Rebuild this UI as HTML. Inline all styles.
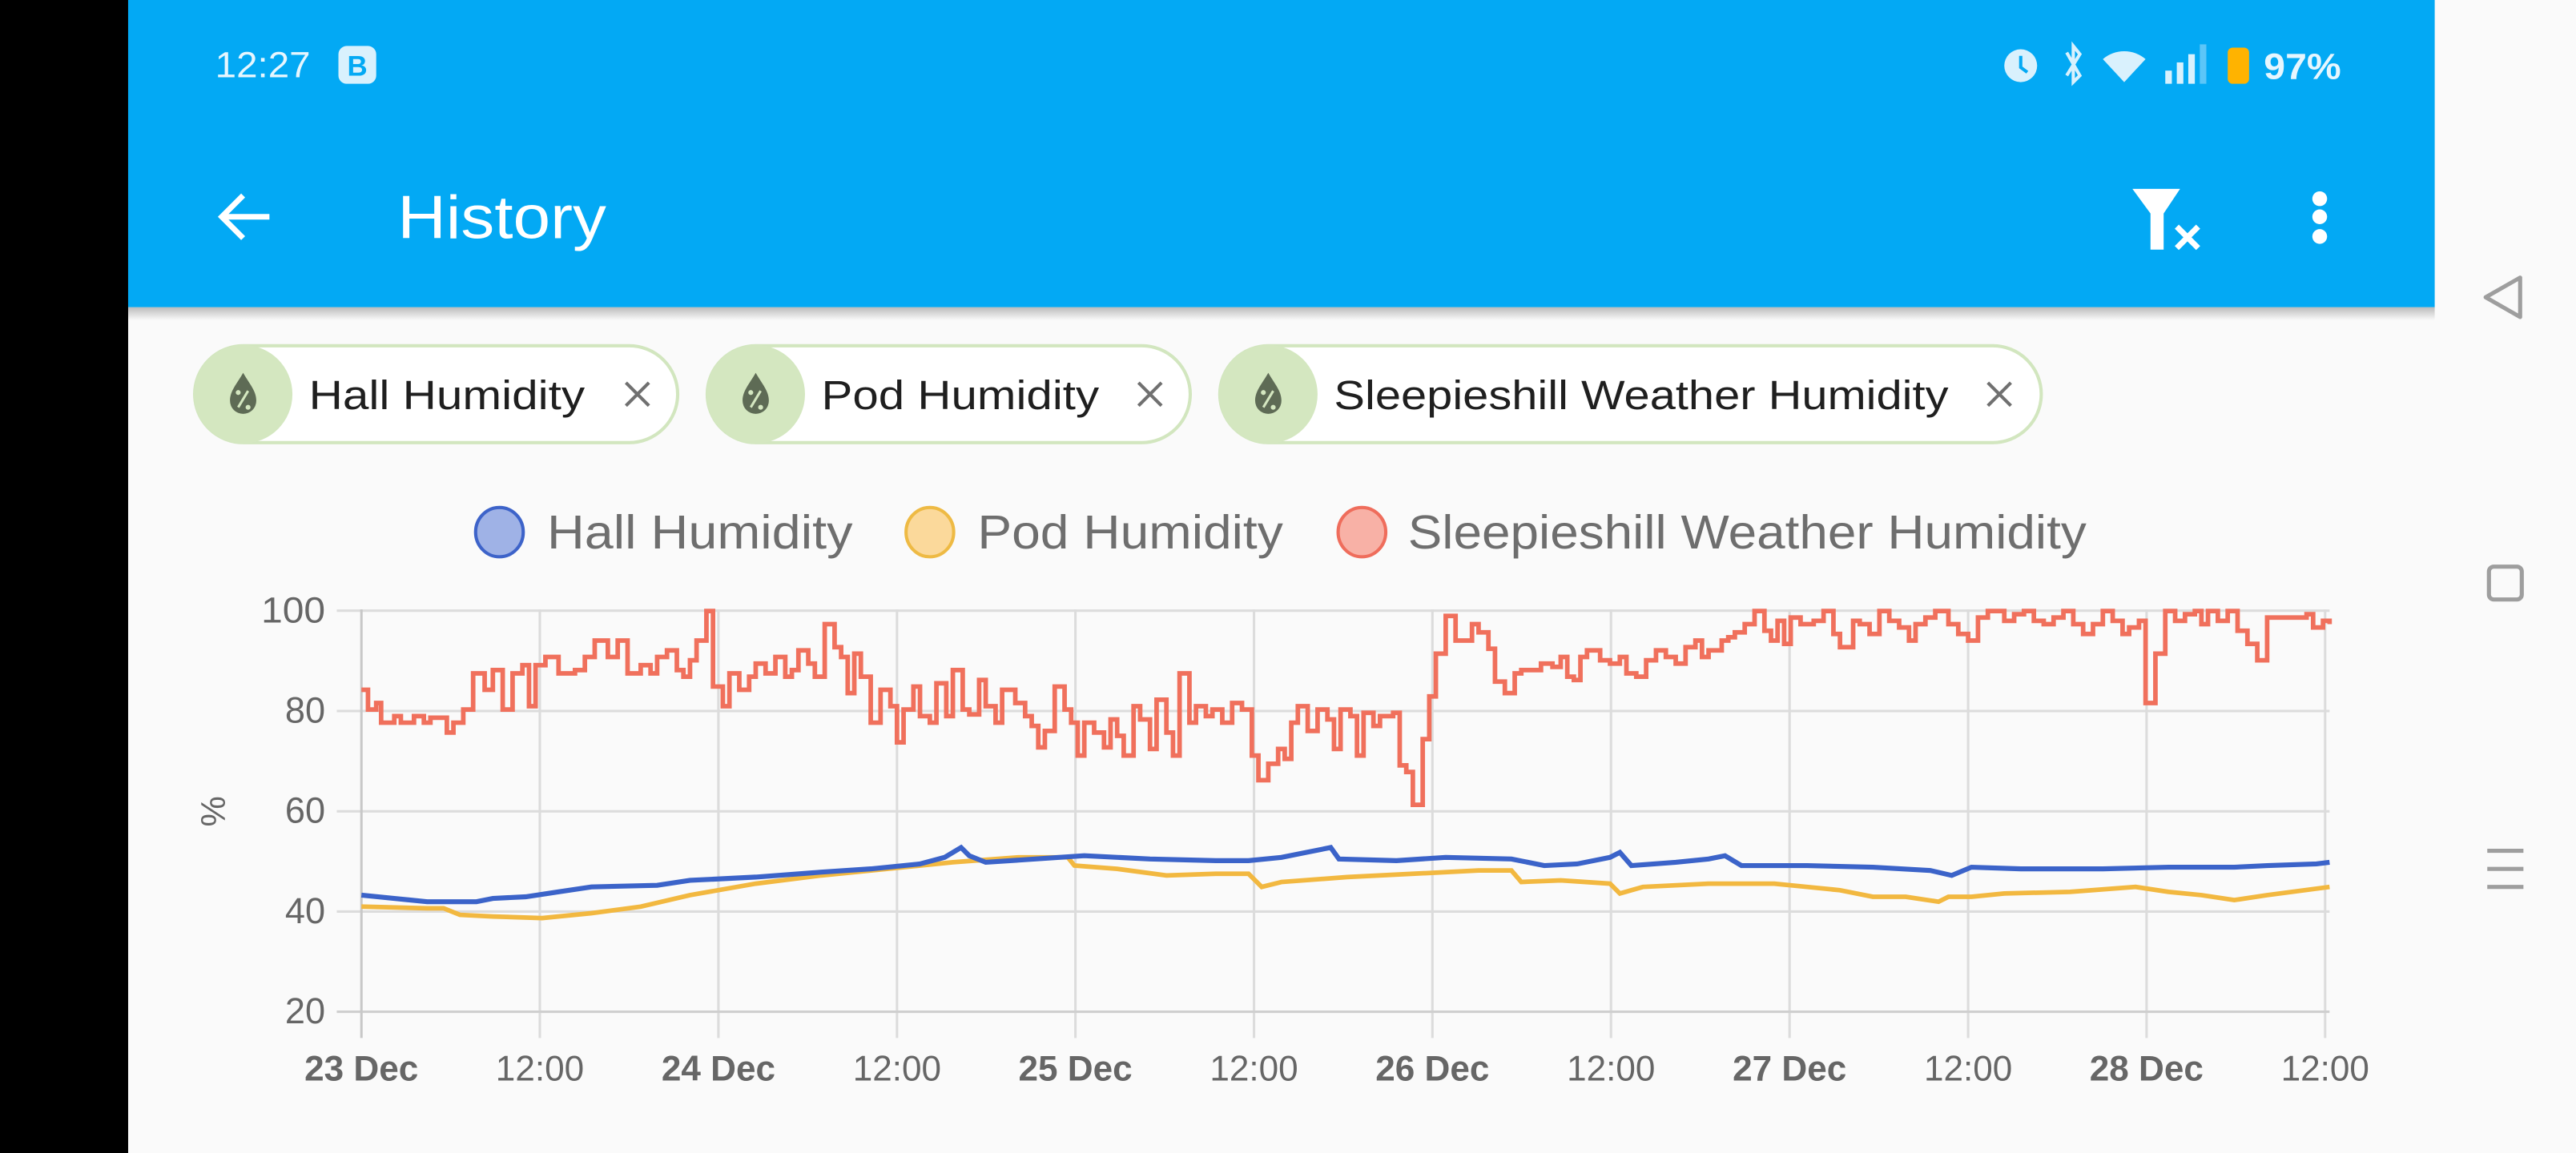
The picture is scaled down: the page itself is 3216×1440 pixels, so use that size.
<!DOCTYPE html>
<html><head><meta charset="utf-8"><style>
html,body{margin:0;padding:0;width:3216px;height:1440px;overflow:hidden;background:#fafafa}
svg{display:block}
text{font-family:"Liberation Sans",sans-serif}
</style></head><body>
<svg width="3216" height="1440" viewBox="0 0 1568 702" preserveAspectRatio="none" xmlns="http://www.w3.org/2000/svg">
<defs>
<linearGradient id="sh" x1="0" y1="0" x2="0" y2="1"><stop offset="0" stop-color="#000" stop-opacity="0.25"/><stop offset="1" stop-color="#000" stop-opacity="0"/></linearGradient>
</defs>
<rect x="0" y="0" width="1568" height="702" fill="#fafafa"/>
<rect x="0" y="0" width="78" height="702" fill="#000"/>
<!-- header -->
<rect x="78" y="187" width="1404" height="8" fill="url(#sh)"/>
<rect x="78" y="0" width="1404" height="187" fill="#03a9f4"/>
<text x="131" y="47" font-size="22" fill="#e6f6fe" textLength="58" lengthAdjust="spacingAndGlyphs">12:27</text>
<rect x="206" y="28" width="23" height="23" rx="5" fill="#d9f1fd"/>
<text x="217.5" y="46" font-size="17" font-weight="bold" fill="#03a9f4" text-anchor="middle">B</text>
<!-- status icons -->
<circle cx="1230" cy="40" r="10" fill="#d9f1fd"/>
<path d="M1230 34 V41 L1234 44" stroke="#03a9f4" stroke-width="2" fill="none"/>
<path d="M1258 32 L1266 46 L1262 50 V28 L1266 33 L1258 46" stroke="#d9f1fd" stroke-width="2" fill="none"/>
<path d="M1280 36 A20 20 0 0 1 1306 36 L1293 50 Z" fill="#d9f1fd"/>
<rect x="1318" y="43" width="4" height="8" fill="#d9f1fd"/>
<rect x="1325" y="38" width="4" height="13" fill="#d9f1fd"/>
<rect x="1332" y="33" width="4" height="18" fill="#d9f1fd"/>
<rect x="1339" y="27" width="4" height="24" fill="#5cc6f8"/>
<rect x="1356" y="29" width="13" height="22" rx="3" fill="#ffb300"/>
<text x="1378" y="48" font-size="22" fill="#e6f6fe" font-weight="bold" textLength="47" lengthAdjust="spacingAndGlyphs">97%</text>
<!-- toolbar -->
<path d="M164 132 H136 M148 119 L135 132 L148 145" stroke="#fff" stroke-width="3.4" fill="none"/>
<text x="242" y="145" font-size="37" fill="#fff" textLength="127" lengthAdjust="spacingAndGlyphs">History</text>
<path d="M1298 115 H1327 L1317 130 V152 L1309 152 V130 Z" fill="#fff"/>
<path d="M1325 138 L1338 151 M1338 138 L1325 151" stroke="#fff" stroke-width="3.5"/>
<circle cx="1412" cy="121" r="4.5" fill="#fff"/><circle cx="1412" cy="132" r="4.5" fill="#fff"/><circle cx="1412" cy="144" r="4.5" fill="#fff"/>
<!-- nav bar -->
<path d="M1534 169 V193 L1513 181 Z" stroke="#9e9e9e" stroke-width="2.5" fill="none" stroke-linejoin="round"/>
<rect x="1515" y="345" width="20" height="20" rx="3" stroke="#9e9e9e" stroke-width="2.5" fill="none"/>
<path d="M1514 518 H1536 M1514 529 H1536 M1514 540 H1536" stroke="#9e9e9e" stroke-width="2.5"/>
<!-- chips -->
<g>
<rect x="118.5" y="210.5" width="294" height="59" rx="29.5" fill="#fff" stroke="#d2e6bf" stroke-width="2"/>
<circle cx="148" cy="240" r="30" fill="#d4e7c0"/>
<path d="M148 227 C144 234 140 238 140 244 A8 8 0 0 0 156 244 C156 238 152 234 148 227 Z" fill="#5e6b55"/>
<path d="M145 248 L151 238" stroke="#d4e7c0" stroke-width="1.5"/><circle cx="145" cy="239" r="1.5" fill="#d4e7c0"/><circle cx="151" cy="248" r="1.5" fill="#d4e7c0"/>
<text x="188" y="249" font-size="25" fill="#1f1f1f" textLength="168" lengthAdjust="spacingAndGlyphs">Hall Humidity</text>
<path d="M381 233 L395 247 M395 233 L381 247" stroke="#707070" stroke-width="2"/>
</g>
<g>
<rect x="430.5" y="210.5" width="294" height="59" rx="29.5" fill="#fff" stroke="#d2e6bf" stroke-width="2"/>
<circle cx="460" cy="240" r="30" fill="#d4e7c0"/>
<path d="M460 227 C456 234 452 238 452 244 A8 8 0 0 0 468 244 C468 238 464 234 460 227 Z" fill="#5e6b55"/>
<path d="M457 248 L463 238" stroke="#d4e7c0" stroke-width="1.5"/><circle cx="457" cy="239" r="1.5" fill="#d4e7c0"/><circle cx="463" cy="248" r="1.5" fill="#d4e7c0"/>
<text x="500" y="249" font-size="25" fill="#1f1f1f" textLength="169" lengthAdjust="spacingAndGlyphs">Pod Humidity</text>
<path d="M693 233 L707 247 M707 233 L693 247" stroke="#707070" stroke-width="2"/>
</g>
<g>
<rect x="742.5" y="210.5" width="500" height="59" rx="29.5" fill="#fff" stroke="#d2e6bf" stroke-width="2"/>
<circle cx="772" cy="240" r="30" fill="#d4e7c0"/>
<path d="M772 227 C768 234 764 238 764 244 A8 8 0 0 0 780 244 C780 238 776 234 772 227 Z" fill="#5e6b55"/>
<path d="M769 248 L775 238" stroke="#d4e7c0" stroke-width="1.5"/><circle cx="769" cy="239" r="1.5" fill="#d4e7c0"/><circle cx="775" cy="248" r="1.5" fill="#d4e7c0"/>
<text x="812" y="249" font-size="25" fill="#1f1f1f" textLength="374" lengthAdjust="spacingAndGlyphs">Sleepieshill Weather Humidity</text>
<path d="M1210 233 L1224 247 M1224 233 L1210 247" stroke="#707070" stroke-width="2"/>
</g>
<!-- legend -->
<ellipse cx="304" cy="324" rx="14.5" ry="15" fill="#9fb2e6" stroke="#3d63c9" stroke-width="2"/>
<text x="333" y="334" font-size="29" fill="#6e6e6e" textLength="186" lengthAdjust="spacingAndGlyphs">Hall Humidity</text>
<ellipse cx="566" cy="324" rx="14.5" ry="15" fill="#fbd99b" stroke="#eeba44" stroke-width="2"/>
<text x="595" y="334" font-size="29" fill="#6e6e6e" textLength="186" lengthAdjust="spacingAndGlyphs">Pod Humidity</text>
<ellipse cx="829" cy="324" rx="14.5" ry="15" fill="#f8b1a6" stroke="#ef6d5c" stroke-width="2"/>
<text x="857" y="334" font-size="29" fill="#6e6e6e" textLength="413" lengthAdjust="spacingAndGlyphs">Sleepieshill Weather Humidity</text>
<!-- grid -->
<g stroke="#dcdcdc" stroke-width="1.5">
<path d="M205 371.8 H1418 M205 432.9 H1418 M205 494 H1418 M205 555 H1418"/>
<path d="M328.6 371 V632 M437.3 371 V632 M546 371 V632 M654.6 371 V632 M763.3 371 V632 M871.9 371 V632 M980.6 371 V632 M1089.3 371 V632 M1198 371 V632 M1306.6 371 V632 M1415.3 371 V632"/>
</g>
<path d="M205 616 H1418" stroke="#cfcfcf" stroke-width="1.5"/>
<path d="M220 371 V632" stroke="#c8c8c8" stroke-width="1.5"/>
<g font-size="22" fill="#666" text-anchor="end">
<text x="198" y="379" textLength="39" lengthAdjust="spacingAndGlyphs">100</text><text x="198" y="440">80</text><text x="198" y="501">60</text><text x="198" y="562">40</text><text x="198" y="623">20</text>
</g>
<text x="0" y="0" font-size="21" fill="#666" text-anchor="middle" transform="translate(137 494) rotate(-90)">%</text>
<g font-size="21.5" fill="#666" text-anchor="middle">
<text x="220" y="658" font-weight="bold">23 Dec</text>
<text x="328.6" y="658">12:00</text>
<text x="437.3" y="658" font-weight="bold">24 Dec</text>
<text x="546" y="658">12:00</text>
<text x="654.6" y="658" font-weight="bold">25 Dec</text>
<text x="763.3" y="658">12:00</text>
<text x="871.9" y="658" font-weight="bold">26 Dec</text>
<text x="980.6" y="658">12:00</text>
<text x="1089.3" y="658" font-weight="bold">27 Dec</text>
<text x="1198" y="658">12:00</text>
<text x="1306.6" y="658" font-weight="bold">28 Dec</text>
<text x="1415.3" y="658">12:00</text>
</g>
<!-- series -->
<polyline fill="none" stroke="#f2b840" stroke-width="2.8" points="220,552 260,553 270,553 280,557 300,558 330,559 360,556 390,552 420,545 460,538 500,533 540,529 580,525 620,522 650,522 654,527 680,529 710,533 740,532 760,532 768,540 780,537 820,534 860,532 900,530 920,530 926,537 950,536 980,538 986,544 1000,540 1040,538 1080,538 1100,540 1120,542 1140,546 1160,546 1180,549 1186,546 1200,546 1220,544 1260,543 1300,540 1320,543 1340,545 1360,548 1380,545 1418,540"/>
<polyline fill="none" stroke="#3b63c9" stroke-width="3" points="220,545 240,547 260,549 290,549 300,547 320,546 340,543 360,540 400,539 420,536 460,534 500,531 530,529 560,526 575,522 585,516 590,521 600,525 630,523 660,521 700,523 740,524 760,524 780,522 795,519 810,516 815,523 850,524 880,522 920,523 940,527 960,526 980,522 986,519 993,527 1020,525 1040,523 1050,521 1060,527 1100,527 1140,528 1175,530 1188,533 1200,528 1230,529 1280,529 1320,528 1360,528 1380,527 1410,526 1418,525"/>
<path fill="none" stroke="#f0705c" stroke-width="2.8" stroke-linejoin="miter" d="M220 420 H224 V432 H229 V428 H232 V440 H240 V436 H244 V440 H252 V436 H258 V440 H262 V437 H272 V446 H276 V440 H282 V432 H288 V410 H295 V420 H300 V408 H306 V432 H312 V410 H318 V405 H322 V430 H326 V405 H332 V400 H340 V410 H350 V408 H356 V400 H362 V390 H370 V400 H376 V390 H382 V410 H390 V405 H396 V410 H400 V400 H406 V396 H412 V408 H416 V412 H420 V402 H424 V390 H430 V372 H434 V418 H440 V430 H444 V410 H450 V420 H456 V412 H460 V404 H466 V410 H472 V400 H478 V412 H482 V408 H486 V396 H492 V404 H496 V412 H502 V380 H508 V394 H512 V400 H516 V422 H520 V398 H524 V412 H530 V440 H536 V420 H542 V430 H546 V452 H550 V432 H556 V418 H560 V436 H566 V440 H570 V416 H576 V436 H580 V408 H586 V432 H590 V435 H596 V414 H600 V430 H606 V440 H610 V420 H618 V428 H624 V436 H628 V442 H632 V455 H636 V445 H642 V418 H648 V432 H652 V440 H656 V460 H660 V440 H666 V446 H672 V455 H676 V438 H680 V448 H684 V460 H690 V430 H694 V438 H700 V456 H704 V426 H710 V446 H714 V460 H718 V410 H724 V440 H728 V430 H734 V436 H738 V432 H744 V440 H750 V428 H756 V432 H762 V460 H766 V475 H772 V465 H778 V456 H782 V462 H786 V440 H790 V430 H796 V445 H802 V432 H808 V438 H812 V456 H816 V432 H822 V436 H826 V460 H830 V434 H836 V442 H840 V436 H848 V434 H852 V466 H856 V470 H860 V490 H866 V450 H870 V424 H874 V398 H880 V375 H886 V390 H892 V390 H896 V380 H900 V385 H906 V395 H910 V415 H916 V422 H922 V410 H926 V408 H932 V408 H938 V404 H945 V406 H950 V400 H954 V412 H958 V414 H962 V400 H966 V396 H974 V402 H980 V404 H986 V400 H990 V410 H996 V412 H1002 V402 H1008 V396 H1014 V400 H1020 V404 H1026 V394 H1032 V390 H1036 V400 H1040 V396 H1048 V390 H1052 V388 H1056 V385 H1062 V380 H1068 V372 H1074 V384 H1078 V390 H1082 V378 H1086 V392 H1090 V376 H1096 V380 H1104 V378 H1110 V372 H1116 V386 H1120 V394 H1128 V378 H1132 V380 H1138 V386 H1144 V372 H1150 V378 H1156 V382 H1162 V390 H1166 V380 H1172 V376 H1178 V372 H1186 V380 H1192 V386 H1198 V390 H1204 V376 H1210 V372 H1220 V378 H1226 V374 H1232 V372 H1238 V378 H1244 V380 H1250 V376 H1256 V372 H1262 V380 H1268 V386 H1274 V380 H1280 V372 H1286 V378 H1292 V386 H1296 V382 H1302 V378 H1306 V428 H1312 V398 H1318 V372 H1324 V378 H1330 V374 H1336 V372 H1340 V380 H1344 V372 H1350 V378 H1356 V372 H1362 V384 H1368 V392 H1374 V402 H1380 V376 H1394 V376 H1404 V374 H1408 V382 H1414 V378 H1418 V380"/>
</svg>
</body></html>
